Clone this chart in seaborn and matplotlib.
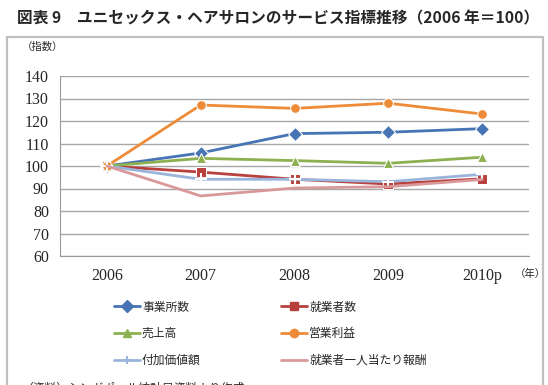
import pandas as pd
import seaborn as sns
import matplotlib.pyplot as plt
from matplotlib.patches import Rectangle

# data (2006 = 100)
years = ['2006', '2007', '2008', '2009', '2010p']
establishments = [100, 105.8, 114.4, 115.0, 116.6]
workers = [100, 97.3, 94.1, 92.0, 94.3]
sales = [100, 103.4, 102.4, 101.2, 103.9]
op_profit = [100, 127.1, 125.6, 127.9, 123.1]
value_added = [100, 94.1, 94.1, 93.0, 96.3]
pay_per_worker = [100, 86.7, 90.2, 90.8, 94.0]

names = ['事業所数', '就業者数', '売上高', '営業利益', '付加価値額', '就業者一人当たり報酬']
series = [establishments, workers, sales, op_profit, value_added, pay_per_worker]
colors = ['#4674B5', '#B8413E', '#8DB050', '#EE8B38', '#9AB5DB', '#D9989A']
marks = ['D', 's', '^', 'o', 'P', '']

rows = []
for n, vals in zip(names, series):
    for y, v in zip(years, vals):
        rows.append({'year': y, 'series': n, 'value': v})
df = pd.DataFrame(rows)

sns.set_style('white')
plt.rcParams['font.family'] = ['Liberation Serif', 'Noto Sans CJK JP']

fig = plt.figure(figsize=(5.48, 3.85), dpi=100)
ax = fig.add_axes([60 / 548, 1 - 256 / 385, 469 / 548, 180 / 385])

# outer frame
fig.patches.append(Rectangle((7 / 548, -0.05), 536 / 548, 1 - 37 / 385 + 0.05,
                             transform=fig.transFigure, fill=False,
                             edgecolor='#c0c0c0', linewidth=1.6))

sns.lineplot(data=df, x='year', y='value', hue='series', style='series',
             palette=dict(zip(names, colors)), markers=dict(zip(names, [m if m else '.' for m in marks])),
             dashes=False, linewidth=2, markersize=7, ax=ax, legend=False, sort=False)

# tweak markers: plus for value added, none for pay
for line, m in zip(ax.lines, marks):
    if m == 'P':
        line.set_marker('+')
        line.set_markersize(9)
        line.set_markeredgewidth(1.5)
    elif m == '':
        line.set_marker('None')

ax.set_xlim(-0.5, 4.5)
ax.set_ylim(60, 140)
ax.set_yticks(range(60, 141, 10))
ax.set_xticks(range(5))
ax.set_xticklabels(years)
ax.set_xticks([i - 0.5 for i in range(6)], minor=True)
ax.tick_params(axis='x', which='major', length=0, pad=9, labelsize=11.5)
ax.tick_params(axis='x', which='minor', length=5, color='#888888', direction='out')
ax.tick_params(axis='y', length=5, color='#888888', direction='out', labelsize=11.5, pad=3)
ax.yaxis.grid(True, color='#a6a6a6', linewidth=1)
ax.set_axisbelow(True)
for s in ['top', 'right']:
    ax.spines[s].set_visible(False)
for s in ['left', 'bottom']:
    ax.spines[s].set_color('#999999')
ax.set_xlabel('')
ax.set_ylabel('')

# legend
handles = []
for n, c, m in zip(names, colors, marks):
    h, = ax.plot([], [], color=c, linewidth=2,
                 marker=('+' if m == 'P' else (m if m else 'None')), markersize=6,
                 markeredgewidth=1.5 if m == 'P' else 1)
    h.set_label(n)
    handles.append(h)
order = [0, 2, 4, 1, 3, 5]
fig.legend([handles[i] for i in order], [names[i] for i in order], ncol=2,
           loc='upper left', bbox_to_anchor=(103 / 548, 1 - 290 / 385),
           frameon=False, prop={'family': 'Noto Sans CJK JP', 'size': 8.5},
           handlelength=2.2, handletextpad=0.2, columnspacing=6.8, labelspacing=1.15)

fig.text(17 / 548, 1 - 18 / 385, '図表 9　ユニセックス・ヘアサロンのサービス指標推移（2006 年＝100）',
         fontsize=11.3, fontweight='bold', va='center', family=['Noto Sans CJK JP'])
fig.text(22 / 548, 1 - 47 / 385, '（指数）', fontsize=7.5, va='center', family=['Noto Sans CJK JP'])
fig.text(515 / 548, 1 - 274 / 385, '（年）', fontsize=7.5, va='center', family=['Noto Sans CJK JP'])
fig.text(22 / 548, -3 / 385, '（資料）シンガポール統計局資料より作成', fontsize=8.5, va='center',
         family=['Noto Sans CJK JP'])

fig.savefig('out.png', dpi=100)
